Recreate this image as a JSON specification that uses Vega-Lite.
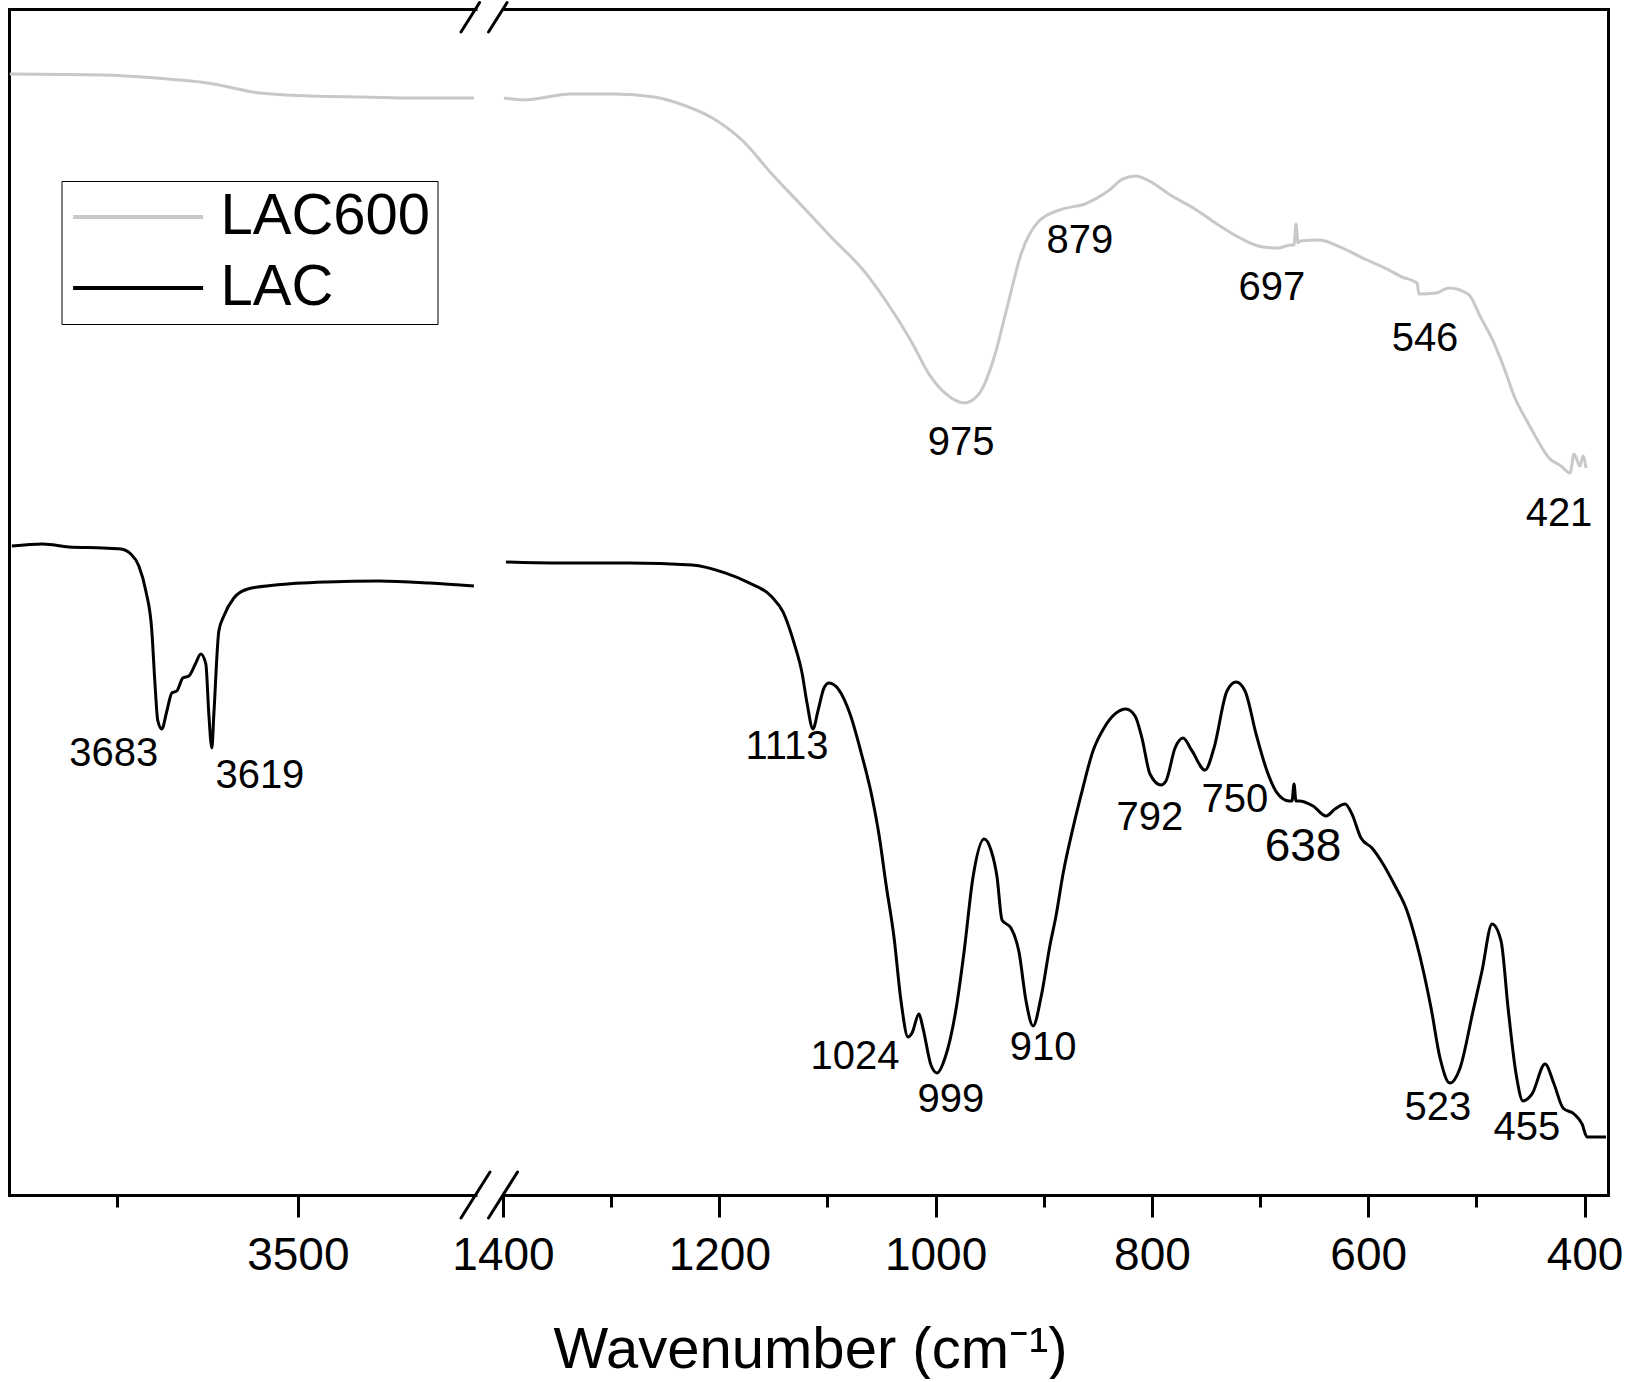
{
  "$schema": "https://vega.github.io/schema/vega-lite/v6.json",
  "padding": {"left": 8, "top": 0, "right": 10, "bottom": 0},
  "bounds": "flush",
  "spacing": 27,
  "background": "white",
  "config": {
    "view": {"stroke": null},
    "font": "Liberation Sans",
    "axis": {"grid": false, "domainColor": "black", "tickColor": "black", "labelColor": "black", "titleColor": "black", "labelFont": "Liberation Sans", "titleFont": "Liberation Sans"}
  },
  "resolve": {"scale": {"x": "independent", "y": "shared", "color": "shared"}},
  "datasets": {
    "left": [
      {"s": "LAC600", "wn": 3899, "T": 94.52}, {"s": "LAC600", "wn": 3769, "T": 94.44}, {"s": "LAC600", "wn": 3697, "T": 94.18},
      {"s": "LAC600", "wn": 3625, "T": 93.76}, {"s": "LAC600", "wn": 3553, "T": 92.92}, {"s": "LAC600", "wn": 3481, "T": 92.66},
      {"s": "LAC600", "wn": 3409, "T": 92.58}, {"s": "LAC600", "wn": 3337, "T": 92.5}, {"s": "LAC600", "wn": 3256, "T": 92.5},
      {"s": "LAC", "wn": 3896.1, "T": 54.72}, {"s": "LAC", "wn": 3853.2, "T": 54.89}, {"s": "LAC", "wn": 3817.2, "T": 54.64},
      {"s": "LAC", "wn": 3770.1, "T": 54.55}, {"s": "LAC", "wn": 3745.1, "T": 54.47}, {"s": "LAC", "wn": 3731.3, "T": 54.05},
      {"s": "LAC", "wn": 3720.2, "T": 53.04}, {"s": "LAC", "wn": 3710.5, "T": 50.93}, {"s": "LAC", "wn": 3702.2, "T": 47.55},
      {"s": "LAC", "wn": 3698.1, "T": 43.34}, {"s": "LAC", "wn": 3693.9, "T": 39.97}, {"s": "LAC", "wn": 3688.4, "T": 39.29},
      {"s": "LAC", "wn": 3681.4, "T": 40.81}, {"s": "LAC", "wn": 3674.5, "T": 42.33}, {"s": "LAC", "wn": 3667.6, "T": 42.5},
      {"s": "LAC", "wn": 3659.3, "T": 43.59}, {"s": "LAC", "wn": 3651.0, "T": 43.76}, {"s": "LAC", "wn": 3641.3, "T": 44.86},
      {"s": "LAC", "wn": 3634.4, "T": 45.62}, {"s": "LAC", "wn": 3627.4, "T": 44.77}, {"s": "LAC", "wn": 3623.3, "T": 40.56},
      {"s": "LAC", "wn": 3619.1, "T": 37.69}, {"s": "LAC", "wn": 3616.3, "T": 40.56}, {"s": "LAC", "wn": 3609.4, "T": 47.55},
      {"s": "LAC", "wn": 3602.5, "T": 48.82}, {"s": "LAC", "wn": 3588.6, "T": 50.34}, {"s": "LAC", "wn": 3569.3, "T": 51.1},
      {"s": "LAC", "wn": 3530.5, "T": 51.43}, {"s": "LAC", "wn": 3459.8, "T": 51.69}, {"s": "LAC", "wn": 3387.8, "T": 51.77},
      {"s": "LAC", "wn": 3317.2, "T": 51.6}, {"s": "LAC", "wn": 3256.2, "T": 51.35}
    ],
    "right": [
      {"s": "LAC600", "wn": 1399.1, "T": 92.5}, {"s": "LAC600", "wn": 1381.5, "T": 92.33}, {"s": "LAC600", "wn": 1337.1, "T": 92.83},
      {"s": "LAC600", "wn": 1297.4, "T": 92.83}, {"s": "LAC600", "wn": 1260.4, "T": 92.58}, {"s": "LAC600", "wn": 1230.8, "T": 91.82},
      {"s": "LAC600", "wn": 1204.9, "T": 90.73}, {"s": "LAC600", "wn": 1178.1, "T": 88.87}, {"s": "LAC600", "wn": 1152.2, "T": 86.17},
      {"s": "LAC600", "wn": 1121.7, "T": 83.22}, {"s": "LAC600", "wn": 1095.8, "T": 80.69}, {"s": "LAC600", "wn": 1066.2, "T": 77.91},
      {"s": "LAC600", "wn": 1045.9, "T": 75.38}, {"s": "LAC600", "wn": 1022.7, "T": 72.01}, {"s": "LAC600", "wn": 1006.1, "T": 69.22},
      {"s": "LAC600", "wn": 990.4, "T": 67.54}, {"s": "LAC600", "wn": 973.7, "T": 66.78}, {"s": "LAC600", "wn": 959.9, "T": 67.54},
      {"s": "LAC600", "wn": 946.9, "T": 70.32}, {"s": "LAC600", "wn": 934.0, "T": 74.79}, {"s": "LAC600", "wn": 921.0, "T": 79.34},
      {"s": "LAC600", "wn": 904.4, "T": 82.12}, {"s": "LAC600", "wn": 882.2, "T": 83.14}, {"s": "LAC600", "wn": 861.9, "T": 83.56},
      {"s": "LAC600", "wn": 840.6, "T": 84.65}, {"s": "LAC600", "wn": 826.7, "T": 85.67}, {"s": "LAC600", "wn": 814.7, "T": 85.92},
      {"s": "LAC600", "wn": 802.7, "T": 85.5}, {"s": "LAC600", "wn": 781.4, "T": 84.23}, {"s": "LAC600", "wn": 760.2, "T": 83.14},
      {"s": "LAC600", "wn": 739.8, "T": 81.87}, {"s": "LAC600", "wn": 718.5, "T": 80.69}, {"s": "LAC600", "wn": 697.3, "T": 79.93},
      {"s": "LAC600", "wn": 683.4, "T": 79.85}, {"s": "LAC600", "wn": 671.4, "T": 80.1}, {"s": "LAC600", "wn": 668.6, "T": 80.1},
      {"s": "LAC600", "wn": 666.8, "T": 81.87}, {"s": "LAC600", "wn": 664.9, "T": 80.27}, {"s": "LAC600", "wn": 663.1, "T": 80.44},
      {"s": "LAC600", "wn": 645.5, "T": 80.52}, {"s": "LAC600", "wn": 624.2, "T": 79.85}, {"s": "LAC600", "wn": 603.0, "T": 78.92},
      {"s": "LAC600", "wn": 582.6, "T": 78.08}, {"s": "LAC600", "wn": 568.7, "T": 77.4}, {"s": "LAC600", "wn": 554.9, "T": 76.9},
      {"s": "LAC600", "wn": 553.0, "T": 75.97}, {"s": "LAC600", "wn": 537.3, "T": 76.05}, {"s": "LAC600", "wn": 525.3, "T": 76.48},
      {"s": "LAC600", "wn": 507.7, "T": 75.97}, {"s": "LAC600", "wn": 495.7, "T": 73.95}, {"s": "LAC600", "wn": 484.6, "T": 72.01},
      {"s": "LAC600", "wn": 474.4, "T": 69.73}, {"s": "LAC600", "wn": 464.3, "T": 67.2}, {"s": "LAC600", "wn": 453.2, "T": 65.26},
      {"s": "LAC600", "wn": 443.0, "T": 63.58}, {"s": "LAC600", "wn": 432.8, "T": 62.14}, {"s": "LAC600", "wn": 421.7, "T": 61.47},
      {"s": "LAC600", "wn": 413.4, "T": 60.88}, {"s": "LAC600", "wn": 409.7, "T": 62.48}, {"s": "LAC600", "wn": 404.2, "T": 61.47},
      {"s": "LAC600", "wn": 401.4, "T": 62.31}, {"s": "LAC600", "wn": 398.6, "T": 61.3},
      {"s": "LAC", "wn": 1397.2, "T": 53.37}, {"s": "LAC", "wn": 1351.0, "T": 53.29}, {"s": "LAC", "wn": 1283.5, "T": 53.29},
      {"s": "LAC", "wn": 1225.2, "T": 53.12}, {"s": "LAC", "wn": 1194.7, "T": 52.45}, {"s": "LAC", "wn": 1174.4, "T": 51.69},
      {"s": "LAC", "wn": 1151.3, "T": 50.42}, {"s": "LAC", "wn": 1141.1, "T": 49.16}, {"s": "LAC", "wn": 1130.9, "T": 46.54},
      {"s": "LAC", "wn": 1123.5, "T": 44.01}, {"s": "LAC", "wn": 1118.9, "T": 41.48}, {"s": "LAC", "wn": 1113.4, "T": 39.29},
      {"s": "LAC", "wn": 1108.8, "T": 40.81}, {"s": "LAC", "wn": 1103.2, "T": 42.75}, {"s": "LAC", "wn": 1098.6, "T": 43.17},
      {"s": "LAC", "wn": 1089.3, "T": 42.58}, {"s": "LAC", "wn": 1079.1, "T": 40.56}, {"s": "LAC", "wn": 1069.0, "T": 37.35},
      {"s": "LAC", "wn": 1058.8, "T": 33.56}, {"s": "LAC", "wn": 1052.3, "T": 30.35}, {"s": "LAC", "wn": 1045.9, "T": 26.22},
      {"s": "LAC", "wn": 1038.5, "T": 21.75}, {"s": "LAC", "wn": 1032.0, "T": 16.36}, {"s": "LAC", "wn": 1025.5, "T": 13.32},
      {"s": "LAC", "wn": 1021.8, "T": 13.66}, {"s": "LAC", "wn": 1015.4, "T": 15.26}, {"s": "LAC", "wn": 1011.7, "T": 14.08},
      {"s": "LAC", "wn": 1004.3, "T": 10.96}, {"s": "LAC", "wn": 998.7, "T": 10.29}, {"s": "LAC", "wn": 991.3, "T": 11.55},
      {"s": "LAC", "wn": 981.1, "T": 15.68}, {"s": "LAC", "wn": 973.7, "T": 20.49}, {"s": "LAC", "wn": 965.4, "T": 26.81},
      {"s": "LAC", "wn": 955.2, "T": 30.02}, {"s": "LAC", "wn": 948.8, "T": 29.09}, {"s": "LAC", "wn": 943.2, "T": 26.81},
      {"s": "LAC", "wn": 938.6, "T": 23.19}, {"s": "LAC", "wn": 930.3, "T": 22.51}, {"s": "LAC", "wn": 922.9, "T": 20.49},
      {"s": "LAC", "wn": 916.4, "T": 16.36}, {"s": "LAC", "wn": 909.9, "T": 14.25}, {"s": "LAC", "wn": 902.5, "T": 16.69},
      {"s": "LAC", "wn": 894.2, "T": 21.08}, {"s": "LAC", "wn": 888.7, "T": 23.52}, {"s": "LAC", "wn": 882.2, "T": 27.07},
      {"s": "LAC", "wn": 873.0, "T": 30.94}, {"s": "LAC", "wn": 864.6, "T": 34.06}, {"s": "LAC", "wn": 854.5, "T": 37.44},
      {"s": "LAC", "wn": 844.3, "T": 39.38}, {"s": "LAC", "wn": 834.1, "T": 40.56}, {"s": "LAC", "wn": 824.0, "T": 40.98},
      {"s": "LAC", "wn": 815.6, "T": 40.39}, {"s": "LAC", "wn": 809.2, "T": 38.53}, {"s": "LAC", "wn": 801.8, "T": 35.5},
      {"s": "LAC", "wn": 791.6, "T": 34.57}, {"s": "LAC", "wn": 787.0, "T": 34.91}, {"s": "LAC", "wn": 778.6, "T": 37.69},
      {"s": "LAC", "wn": 771.2, "T": 38.53}, {"s": "LAC", "wn": 762.9, "T": 37.44}, {"s": "LAC", "wn": 750.9, "T": 35.83},
      {"s": "LAC", "wn": 742.6, "T": 37.69}, {"s": "LAC", "wn": 730.6, "T": 42.5}, {"s": "LAC", "wn": 722.2, "T": 43.25},
      {"s": "LAC", "wn": 713.9, "T": 42.5}, {"s": "LAC", "wn": 703.7, "T": 38.87}, {"s": "LAC", "wn": 693.6, "T": 35.75},
      {"s": "LAC", "wn": 684.3, "T": 33.9}, {"s": "LAC", "wn": 673.2, "T": 33.22}, {"s": "LAC", "wn": 670.5, "T": 33.22},
      {"s": "LAC", "wn": 668.6, "T": 34.65}, {"s": "LAC", "wn": 666.8, "T": 33.22}, {"s": "LAC", "wn": 664.0, "T": 33.22},
      {"s": "LAC", "wn": 651.0, "T": 32.8}, {"s": "LAC", "wn": 639.0, "T": 31.96}, {"s": "LAC", "wn": 630.7, "T": 32.55},
      {"s": "LAC", "wn": 621.4, "T": 32.97}, {"s": "LAC", "wn": 615.0, "T": 32.12}, {"s": "LAC", "wn": 606.7, "T": 30.1},
      {"s": "LAC", "wn": 596.5, "T": 29.26}, {"s": "LAC", "wn": 586.3, "T": 27.91}, {"s": "LAC", "wn": 576.1, "T": 26.22},
      {"s": "LAC", "wn": 564.1, "T": 23.95}, {"s": "LAC", "wn": 555.8, "T": 21.42}, {"s": "LAC", "wn": 548.4, "T": 18.63},
      {"s": "LAC", "wn": 541.9, "T": 15.77}, {"s": "LAC", "wn": 533.6, "T": 11.55}, {"s": "LAC", "wn": 524.4, "T": 9.44},
      {"s": "LAC", "wn": 515.1, "T": 10.71}, {"s": "LAC", "wn": 503.1, "T": 15.51}, {"s": "LAC", "wn": 494.8, "T": 18.89},
      {"s": "LAC", "wn": 485.5, "T": 22.85}, {"s": "LAC", "wn": 477.2, "T": 21.42}, {"s": "LAC", "wn": 470.7, "T": 15.77},
      {"s": "LAC", "wn": 463.3, "T": 10.2}, {"s": "LAC", "wn": 456.9, "T": 7.93}, {"s": "LAC", "wn": 448.5, "T": 8.52},
      {"s": "LAC", "wn": 436.5, "T": 11.05}, {"s": "LAC", "wn": 428.2, "T": 9.36}, {"s": "LAC", "wn": 419.9, "T": 7.34},
      {"s": "LAC", "wn": 409.7, "T": 6.83}, {"s": "LAC", "wn": 402.3, "T": 5.99}, {"s": "LAC", "wn": 397.7, "T": 4.89},
      {"s": "LAC", "wn": 380.1, "T": 4.89}
    ],
    "labels_left": [
      {"label": "3683", "wn": 3754.8, "T": 37.18},
      {"label": "3619", "wn": 3552.6, "T": 35.33}
    ],
    "labels_right": [
      {"label": "975", "wn": 976.5, "T": 63.41},
      {"label": "879", "wn": 866.5, "T": 80.44},
      {"label": "697", "wn": 689.0, "T": 76.48},
      {"label": "546", "wn": 547.5, "T": 72.18},
      {"label": "421", "wn": 423.6, "T": 57.42},
      {"label": "1113", "wn": 1137.4, "T": 37.77},
      {"label": "1024", "wn": 1074.5, "T": 11.64},
      {"label": "999", "wn": 985.8, "T": 8.01},
      {"label": "910", "wn": 900.7, "T": 12.39},
      {"label": "792", "wn": 801.8, "T": 31.79},
      {"label": "750", "wn": 723.2, "T": 33.31},
      {"label": "638", "wn": 660.3, "T": 29.34},
      {"label": "523", "wn": 535.5, "T": 7.34},
      {"label": "455", "wn": 453.2, "T": 5.65}
    ],
    "breaks_left": [
      {"xa": 3274.1, "xb": 3233.9, "ya": -1.94, "yb": 1.94},
      {"xa": 3274.1, "xb": 3248.3, "ya": 98.06, "yb": 100.55}
    ],
    "breaks_right": [
      {"xa": 1413.4, "xb": 1386.6, "ya": -1.94, "yb": 1.94},
      {"xa": 1413.4, "xb": 1396.2, "ya": 98.06, "yb": 100.55}
    ]
  },
  "hconcat": [
    {
      "width": 466.5,
      "height": 1186,
      "resolve": {"axis": {"x": "independent", "y": "independent"}},
      "layer": [
        {
          "data": {"name": "left"},
          "mark": {"type": "line", "strokeWidth": 3, "strokeJoin": "round", "interpolate": "monotone"},
          "encoding": {
            "x": {"field": "wn", "type": "quantitative", "scale": {"domain": [3254, 3900], "reverse": true, "nice": false, "zero": false},
              "axis": {"orient": "bottom", "values": [3500], "format": "d", "tickSize": 22, "tickWidth": 3, "domainWidth": 3, "domainCap": "square", "labelFontSize": 46, "labelPadding": 16, "labelFlush": false, "title": null}},
            "y": {"field": "T", "type": "quantitative", "scale": {"domain": [0, 100], "nice": false, "zero": false},
              "axis": {"orient": "left", "labels": false, "ticks": false, "title": null, "domainWidth": 3, "domainCap": "square"}},
            "color": {"field": "s", "type": "nominal", "scale": {"domain": ["LAC600", "LAC"], "range": ["#c8c8c8", "#000000"]},
              "legend": {"orient": "none", "legendX": 52.5, "legendY": 172, "title": null, "symbolType": "M-1.5,0H6.5", "symbolSize": 1056, "symbolStrokeWidth": 4, "labelFontSize": 58, "labelFont": "Liberation Sans", "labelOffset": 94, "rowPadding": 13, "padding": 7, "strokeColor": "black", "labelLimit": 0, "labelColor": "black"}}
          }
        },
        {
          "data": {"name": "labels_left"},
          "mark": {"type": "text", "font": "Liberation Sans", "fontSize": 40, "baseline": "middle", "align": "center", "color": "black"},
          "encoding": {
            "x": {"field": "wn", "type": "quantitative", "scale": {"domain": [3254, 3900], "reverse": true, "nice": false, "zero": false},
              "axis": {"orient": "bottom", "values": [3750], "tickSize": 12, "tickWidth": 3, "labels": false, "domain": false, "title": null}},
            "y": {"field": "T", "type": "quantitative", "axis": null},
            "text": {"field": "label"}
          }
        },
        {
          "data": {"name": "breaks_left"},
          "mark": {"type": "rule", "strokeWidth": 3, "strokeCap": "round", "color": "black"},
          "encoding": {
            "x": {"field": "xa", "type": "quantitative", "scale": {"domain": [3254, 3900], "reverse": true, "nice": false, "zero": false},
              "axis": {"orient": "top", "labels": false, "ticks": false, "title": null, "domainWidth": 3, "domainCap": "square"}},
            "x2": {"field": "xb"},
            "y": {"field": "ya", "type": "quantitative", "axis": null},
            "y2": {"field": "yb"}
          }
        }
      ]
    },
    {
      "width": 1105,
      "height": 1186,
      "resolve": {"axis": {"x": "independent", "y": "independent"}},
      "layer": [
        {
          "data": {"name": "right"},
          "mark": {"type": "line", "strokeWidth": 3, "strokeJoin": "round", "interpolate": "monotone"},
          "encoding": {
            "x": {"field": "wn", "type": "quantitative", "scale": {"domain": [378.3, 1400], "reverse": true, "nice": false, "zero": false},
              "axis": {"orient": "bottom", "values": [1400, 1200, 1000, 800, 600, 400], "format": "d", "tickSize": 22, "tickWidth": 3, "domainWidth": 3, "domainCap": "square", "labelFontSize": 46, "labelPadding": 16, "labelFlush": false, "labelOverlap": false,
                "title": "Wavenumber (cm⁻¹)", "titleFontSize": 58, "titleFontWeight": "normal", "titleX": 307, "titleY": 172, "titleBaseline": "alphabetic", "titleAlign": "center"}},
            "y": {"field": "T", "type": "quantitative", "scale": {"domain": [0, 100], "nice": false, "zero": false},
              "axis": {"orient": "right", "labels": false, "ticks": false, "title": null, "domainWidth": 3, "domainCap": "square"}},
            "color": {"field": "s", "type": "nominal", "scale": {"domain": ["LAC600", "LAC"], "range": ["#c8c8c8", "#000000"]},
              "legend": {"orient": "none", "legendX": 52.5, "legendY": 172, "title": null, "symbolType": "M-1.5,0H6.5", "symbolSize": 1056, "symbolStrokeWidth": 4, "labelFontSize": 58, "labelFont": "Liberation Sans", "labelOffset": 94, "rowPadding": 13, "padding": 7, "strokeColor": "black", "labelLimit": 0, "labelColor": "black"}}
          }
        },
        {
          "data": {"name": "labels_right"},
          "mark": {"type": "text", "font": "Liberation Sans", "baseline": "middle", "align": "center", "color": "black"},
          "encoding": {
            "x": {"field": "wn", "type": "quantitative", "scale": {"domain": [378.3, 1400], "reverse": true, "nice": false, "zero": false},
              "axis": {"orient": "bottom", "values": [1300, 1100, 900, 700, 500], "tickSize": 12, "tickWidth": 3, "labels": false, "domain": false, "title": null}},
            "y": {"field": "T", "type": "quantitative", "axis": null},
            "text": {"field": "label"},
            "size": {"condition": {"test": "datum.label === '638'", "value": 46}, "value": 40}
          }
        },
        {
          "data": {"name": "breaks_right"},
          "mark": {"type": "rule", "strokeWidth": 3, "strokeCap": "round", "color": "black"},
          "encoding": {
            "x": {"field": "xa", "type": "quantitative", "scale": {"domain": [378.3, 1400], "reverse": true, "nice": false, "zero": false},
              "axis": {"orient": "top", "labels": false, "ticks": false, "title": null, "domainWidth": 3, "domainCap": "square"}},
            "x2": {"field": "xb"},
            "y": {"field": "ya", "type": "quantitative", "axis": null},
            "y2": {"field": "yb"}
          }
        }
      ]
    }
  ]
}
